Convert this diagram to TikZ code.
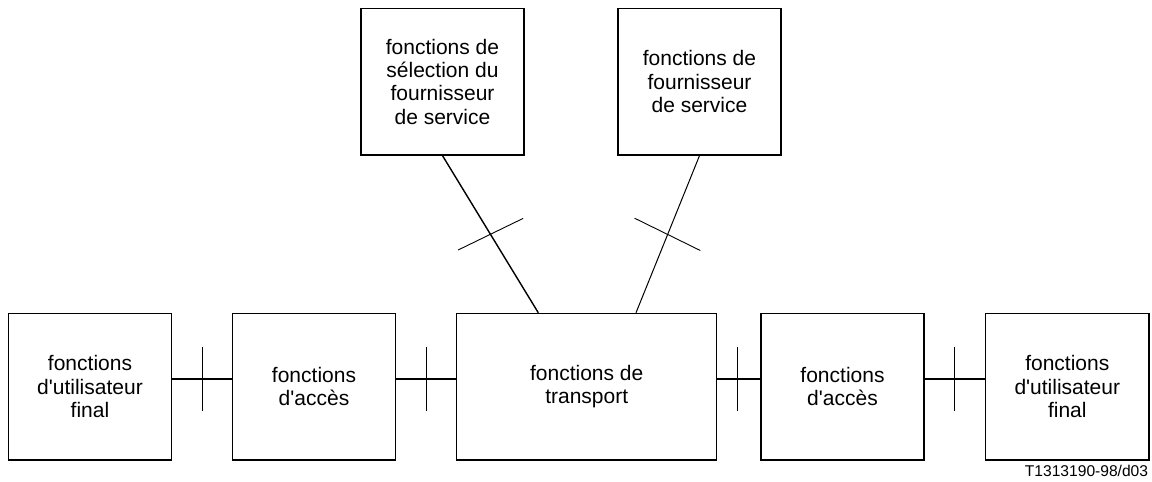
\documentclass[tikz,border=0pt]{standalone}
\usepackage{fontspec}
\setmainfont{Liberation Sans}
\usetikzlibrary{calc}
\begin{document}
\begin{tikzpicture}[x=1pt,y=-1pt,
  fbox/.style={draw,line width=1.2pt,align=center,inner sep=0pt,
    font=\fontsize{21}{23.3}\selectfont,minimum height=146.7pt},
  conn/.style={line width=1.2pt},
  tick/.style={line width=0.9pt}]
\useasboundingbox (0,0) rectangle (1152,482);
% top boxes
\node[fbox,minimum width=163pt] (t1) at (442.5,81.7) {fonctions de\\sélection du\\fournisseur\\de service};
\node[fbox,minimum width=163pt] (t2) at (699.5,81.7) {fonctions de\\fournisseur\\de service};
% bottom boxes
\node[fbox,minimum width=163.4pt] (b1) at (90,386.7) {fonctions\\d\textquotesingle utilisateur\\final};
\node[fbox,minimum width=163.4pt] (b2) at (314,386.7) {fonctions\\d\textquotesingle accès};
\node[fbox,minimum width=260pt] (tr) at (586.7,386.7) {fonctions de\\transport};
\node[fbox,minimum width=163pt] (b4) at (842.5,386.7) {fonctions\\d\textquotesingle accès};
\node[fbox,minimum width=163.4pt] (b5) at (1067.3,386.7) {fonctions\\d\textquotesingle utilisateur\\final};
% horizontal connectors
\draw[conn] ([yshift=7.7pt]b1.east) -- coordinate[pos=0.5] (m1) ([yshift=7.7pt]b2.west);
\draw[conn] ([yshift=7.7pt]b2.east) -- coordinate[pos=0.5] (m2) ([yshift=7.7pt]tr.west);
\draw[conn] ([yshift=7.7pt]tr.east) -- coordinate[pos=0.47] (m3) ([yshift=7.7pt]b4.west);
\draw[conn] ([yshift=7.7pt]b4.east) -- coordinate[pos=0.5] (m4) ([yshift=7.7pt]b5.west);
\foreach \m in {m1,m2,m3,m4}
  \draw[tick] (\m) ++(0,-32) -- ++(0,64);
% diagonal connectors
\draw[line width=1.4pt] (t1.south) -- coordinate[pos=0.502] (d1) ([xshift=-48.4pt]tr.north);
\draw[line width=1.0pt] (t2.south) -- coordinate[pos=0.502] (d2) ([xshift=49.3pt]tr.north);
\draw[tick] (d1) ++(-32.5,15.5) -- ++(65,-31.6);
\draw[tick] (d2) ++(-33,-16.3) -- ++(65.7,32.3);
% label
\node[anchor=base east,inner sep=0pt,font=\fontsize{15.6}{18}\selectfont] (lbl) at (1148.3,476.7) {T1313190-98/d03};
\end{tikzpicture}
\end{document}
